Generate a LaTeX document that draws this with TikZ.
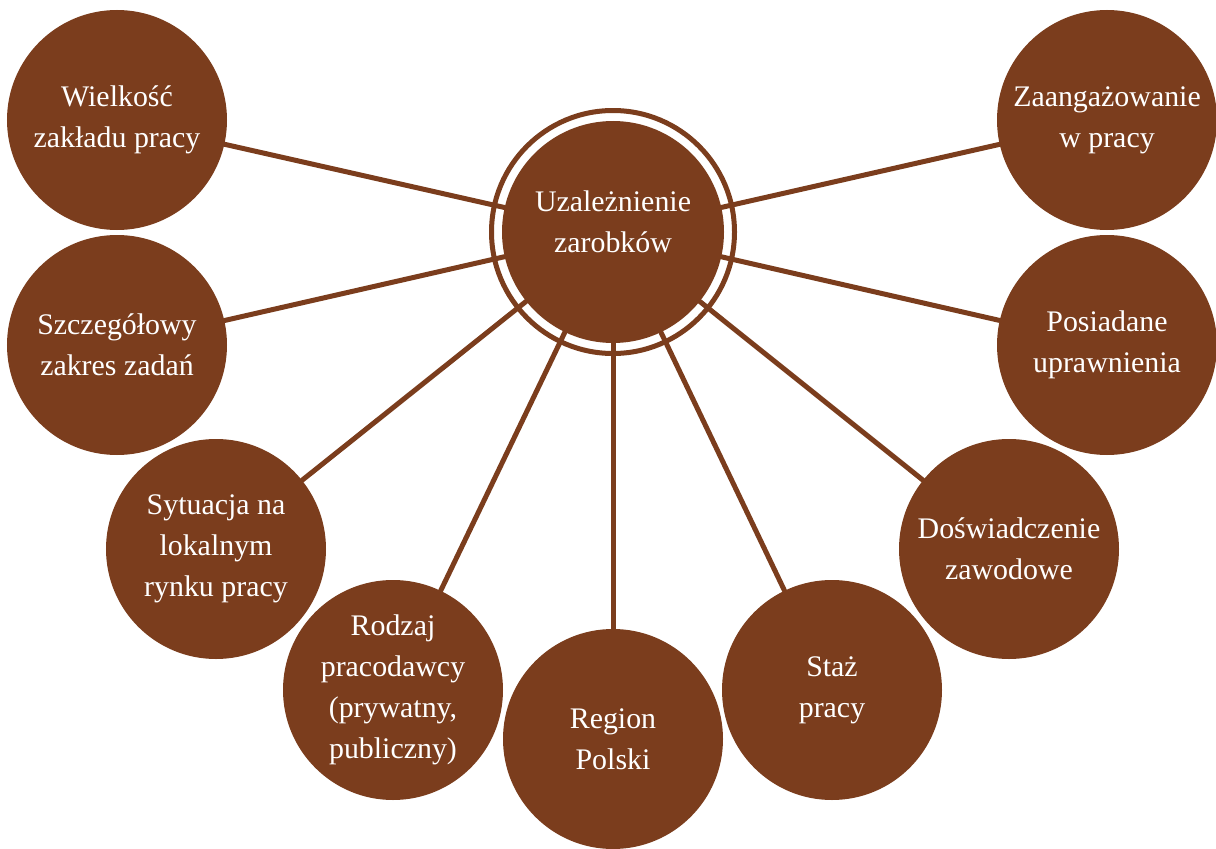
\documentclass[tikz,border=0pt]{standalone}
\usepackage{fontspec}
\setmainfont{Liberation Serif}
\usepackage{tikz}
\definecolor{nodebrown}{RGB}{123,61,29}

\begin{document}
\begin{tikzpicture}[line cap=round,line join=round,x=1bp,y=-1bp,
    bubble/.style={circle,fill=nodebrown,text=white,minimum size=220bp,inner sep=0pt,align=center,font=\fontsize{30}{41}\selectfont},
    link/.style={draw=nodebrown,line width=5bp}]
  \useasboundingbox (0,0) rectangle (1216,849);
  \node[bubble,minimum size=222bp] (hub) at (613,232) {};
  \node[text=white,align=center,font=\fontsize{30}{41}\selectfont] (hubtext) at (613,222) {Uzależnienie\\zarobków};
  \draw[nodebrown,line width=5bp] (hub.center) circle [radius=121.5];
  \node[bubble] (wielkosc) at (117,120) {Wielkość\\zakładu pracy};
  \node[bubble] (zakres) at (117,345) {Szczegółowy\\zakres zadań};
  \node[bubble] (rynek) at (216,549) {Sytuacja na\\lokalnym\\rynku pracy};
  \node[bubble] (rodzaj) at (393,690) {Rodzaj\\pracodawcy\\(prywatny,\\publiczny)};
  \node[bubble] (region) at (613,739) {Region\\Polski};
  \node[bubble] (staz) at (832,690) {Staż\\pracy};
  \node[bubble] (doswiadczenie) at (1009,549) {Doświadczenie\\zawodowe};
  \node[bubble] (uprawnienia) at (1107,345) {Posiadane\\uprawnienia};
  \node[bubble] (zaangazowanie) at (1107,120) {Zaangażowanie\\w pracy};
  \foreach \n in {wielkosc,zakres,rynek,rodzaj,region,staz,doswiadczenie,uprawnienia,zaangazowanie}
    \draw[link] (hub) -- (\n);
\end{tikzpicture}
\end{document}
